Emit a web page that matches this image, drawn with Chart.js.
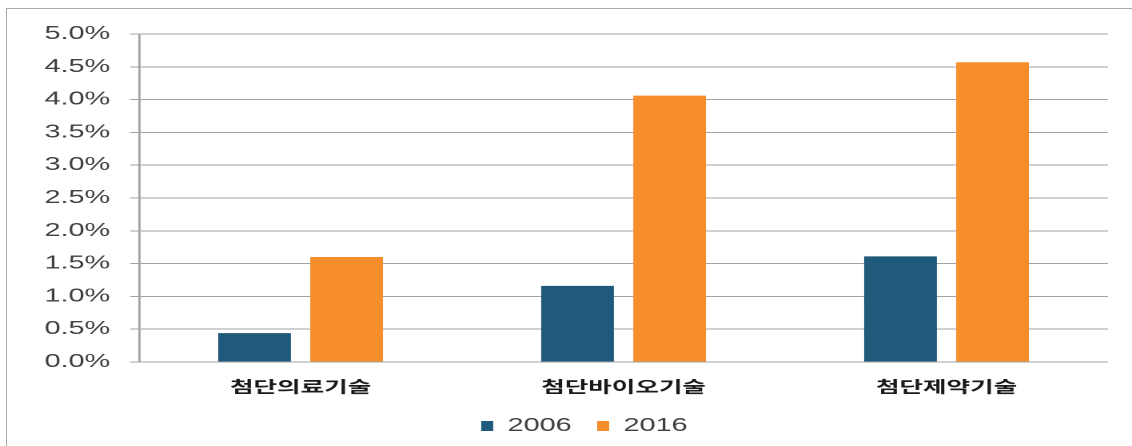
<!DOCTYPE html>
<html lang="ko">
<head>
<meta charset="utf-8">
<title>첨단기술 비중</title>
<script src="https://cdn.jsdelivr.net/npm/chart.js@4"></script>
<style>
  html, body { margin: 0; padding: 0; background: #fff; }
  body { position: relative; width: 1132px; height: 446px; overflow: hidden; }
  #frame {
    position: absolute; left: 6px; top: 8px; right: 0; bottom: 0;
    border-top: 1px solid #aaaaaa; border-left: 1px solid #aaaaaa;
    pointer-events: none;
  }
  #techChart { position: absolute; left: 0; top: 0; }
</style>
</head>
<body>
<!-- 캔버스는 좁게 그리고 가로로 늘려서 표시 -->
<canvas id="techChart" width="708" height="446" style="width:1132px;height:446px"></canvas>
<div id="frame"></div>
<script>
// 항목
var categories = ["첨단의료기술", "첨단바이오기술", "첨단제약기술"];
// 연도별 값 (%)
var years = ["2006", "2016"];
var values2006 = [0.44, 1.16, 1.61];
var values2016 = [1.60, 4.06, 4.57];
// 세로축 눈금 (%)
var tickValues = [0, 0.5, 1, 1.5, 2, 2.5, 3, 3.5, 4, 4.5, 5];

var gridColor = "#a3a3a3";

// 범례를 오른쪽으로 조금 이동
var legendShift = {
    id: 'legendShift',
    afterLayout: function (chart) {
        chart.legend.left += 38;
    },
};

var ctx = document.getElementById("techChart");
var techChart = new Chart(ctx, {
    type: 'bar',
    data: {
        labels: categories,
        datasets: [
            {
                label: years[0],
                backgroundColor: "#1f5a7a",
                borderWidth: 0,
                data: values2006,
            },
            {
                label: years[1],
                backgroundColor: "#f68e2c",
                borderWidth: 0,
                data: values2016,
            }
        ]
    },
    options: {
        responsive: false,
        devicePixelRatio: 2,
        animation: false,
        // 막대 폭
        categoryPercentage: 0.57,
        barPercentage: 0.79,
        layout: {
            padding: { left: 0, right: 15, top: 34, bottom: 1 },
        },
        scales: {
            x: {
                grid: { display: false, drawTicks: false },
                border: { display: false },
                ticks: {
                    padding: 15,
                    color: "#1a1a1a",
                    font: { family: "'Noto Sans CJK KR', sans-serif", size: 16, weight: 'bold' },
                },
                afterFit: function (scale) { scale.height = 39; },
            },
            y: {
                min: 0,
                max: 5,
                afterBuildTicks: function (scale) {
                    scale.ticks = tickValues.map(function (v) { return { value: v }; });
                },
                grid: {
                    color: gridColor,
                    lineWidth: 1,
                    tickLength: 5.6,
                    tickColor: gridColor,
                },
                border: { color: gridColor, width: 1.4 },
                ticks: {
                    padding: 12.5,
                    color: "#404040",
                    font: { family: "'Liberation Sans', Arial, sans-serif", size: 18 },
                    callback: function (value) { return value.toFixed(1) + '%'; },
                },
                afterFit: function (scale) { scale.width = 87; },
            },
        },
        plugins: {
            legend: {
                position: 'bottom',
                labels: {
                    boxWidth: 7.5,
                    boxHeight: 10,
                    padding: 16,
                    color: "#404040",
                    font: { family: "'Liberation Sans', Arial, sans-serif", size: 18 },
                },
            },
            tooltip: { enabled: false },
        },
    },
    plugins: [legendShift],
});
</script>
</body>
</html>
